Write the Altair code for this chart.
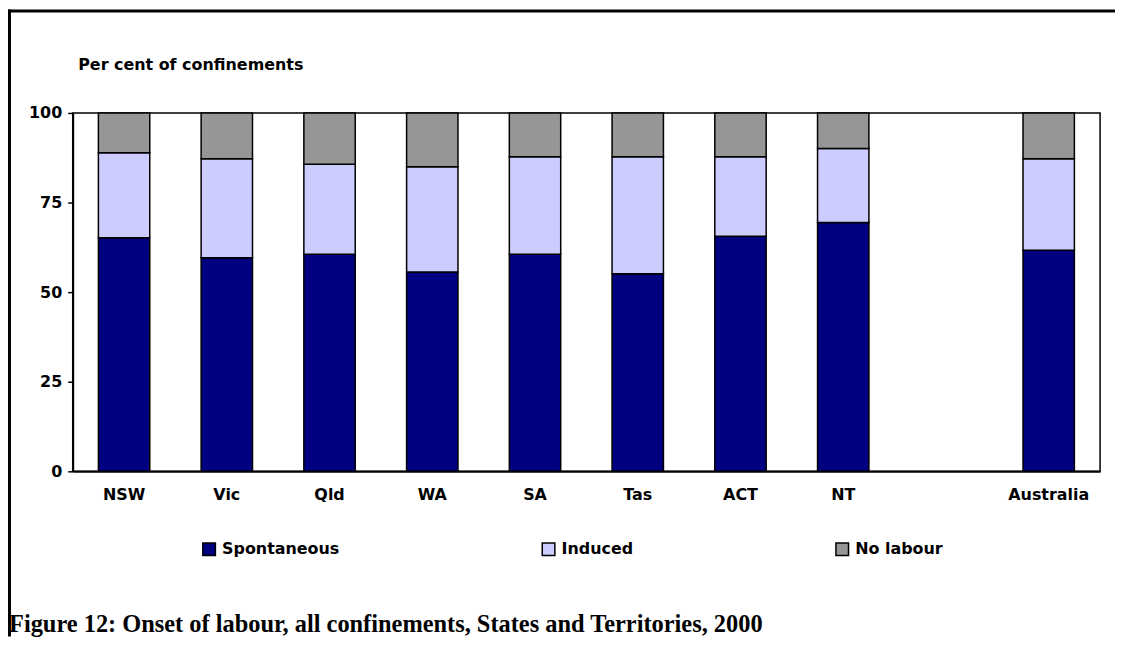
import altair as alt
import pandas as pd

# ---- data ----
states = ["NSW", "Vic", "Qld", "WA", "SA", "Tas", "ACT", "NT", "Australia"]
x_domain = ["NSW", "Vic", "Qld", "WA", "SA", "Tas", "ACT", "NT", " ", "Australia"]
spontaneous = [65.2, 59.6, 60.6, 55.6, 60.6, 55.1, 65.6, 69.4, 61.7]
induced = [23.7, 27.6, 25.1, 29.4, 27.2, 32.7, 22.2, 20.7, 25.5]
no_labour = [11.1, 12.8, 14.3, 15.0, 12.2, 12.2, 12.2, 9.9, 12.8]
series = ["Spontaneous", "Induced", "No labour"]
colors = ["#000080", "#CCCCFF", "#969696"]
y_ticks = [0, 25, 50, 75, 100]
y_title = "Per cent of confinements"
fig_title = "Figure 12: Onset of labour, all confinements, States and Territories, 2000"

rows = []
for i, s in enumerate(states):
    for k, (name, vals) in enumerate(zip(series, [spontaneous, induced, no_labour])):
        rows.append({"state": s, "onset": name, "value": vals[i], "ord": k})
df = pd.DataFrame(rows)

SANS = "DejaVu Sans"
FS = 16
W, H = 1032, 360
PAD_L, PAD_T, PAD_R, PAD_B = 65, 104, 15, 166

bars = alt.Chart(df).mark_bar(stroke="black", strokeWidth=1.5).encode(
    x=alt.X("state:N", scale=alt.Scale(domain=x_domain, paddingInner=0.5, paddingOuter=0.25),
            axis=alt.Axis(title=None, labelAngle=0, ticks=False, labelPadding=15,
                          labelFont=SANS, labelFontWeight="bold", labelFontSize=FS,
                          labelColor="black", domainColor="black", domainWidth=2)),
    y=alt.Y("value:Q", stack="zero", scale=alt.Scale(domain=[0, 100], nice=False),
            axis=alt.Axis(values=y_ticks, title=y_title, titleAngle=0, titleAlign="left",
                          titleBaseline="alphabetic", titleX=5, titleY=-44,
                          titleFont=SANS, titleFontWeight="bold", titleFontSize=FS,
                          titleColor="black", grid=False, tickSize=5, tickColor="black",
                          tickWidth=1.5, labelPadding=6, labelFont=SANS,
                          labelFontWeight="bold", labelFontSize=FS, labelColor="black",
                          domainColor="black", domainWidth=2)),
    color=alt.Color("onset:N", scale=alt.Scale(domain=series, range=colors),
                    legend=alt.Legend(orient="none", legendX=129, legendY=430,
                                      direction="horizontal", title=None,
                                      symbolType="square", symbolSize=160,
                                      symbolStrokeColor="black", symbolStrokeWidth=1.5,
                                      symbolOpacity=1,
                                      labelFont=SANS, labelFontWeight="bold",
                                      labelFontSize=FS, labelColor="black",
                                      labelOffset=5, columnPadding=200)),
    order=alt.Order("ord:Q", sort="ascending"),
)

frame_df = pd.DataFrame({"k": [0]})
top_line = alt.Chart(frame_df).mark_rule(color="black", strokeWidth=3).encode(
    x=alt.value(-PAD_L), x2=alt.value(W + PAD_R), y=alt.value(-PAD_T + 1.5)
)
left_line = alt.Chart(frame_df).mark_rule(color="black", strokeWidth=3).encode(
    x=alt.value(-PAD_L + 1.5), y=alt.value(-PAD_T), y2=alt.value(H + PAD_B)
)

title_df = pd.DataFrame({"t": [fig_title]})
title = alt.Chart(title_df).mark_text(
    align="left", baseline="alphabetic", font="Liberation Serif",
    fontWeight="bold", fontSize=24.5, color="black"
).encode(x=alt.value(-PAD_L + 1), y=alt.value(H + PAD_B - 5), text="t:N")

chart = alt.layer(bars, top_line, left_line, title).properties(
    width=W, height=H,
    autosize=alt.AutoSizeParams(type="none"),
    padding={"left": PAD_L, "top": PAD_T, "right": PAD_R, "bottom": PAD_B},
    background="white",
).configure_view(stroke="black", strokeWidth=1.5)

chart.save("out.html", embed_options={"renderer": "svg", "actions": False})
